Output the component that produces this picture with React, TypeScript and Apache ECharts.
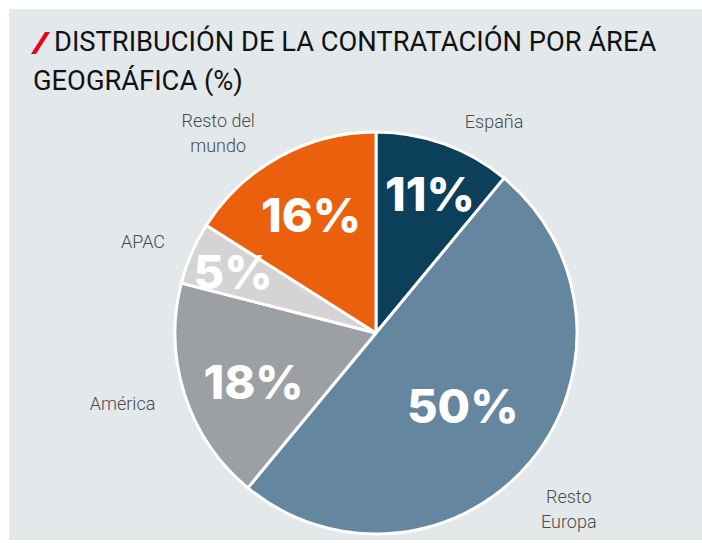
import React, { useEffect, useRef } from "react";
import * as echarts from "echarts";

const regions = ["España", "Resto Europa", "América", "APAC", "Resto del mundo"];
const nameLabels = ["España", "Resto\nEuropa", "América", "APAC", "Resto del\nmundo"];
const shares = [11, 50, 18, 5, 16];
const colors = ["#0b3f5a", "#64869f", "#9c9fa3", "#d5d3d4", "#eb600c"];
const titleLine1 = "DISTRIBUCIÓN DE LA CONTRATACIÓN POR ÁREA";
const titleLine2 = "GEOGRÁFICA (%)";

// label nudges (pixels) relative to ECharts' "inside" anchor
const pctOffsets = [[19, -42], [7, 7], [-24, 17], [-48, -20], [-15, -28]];
const nameOffsets = [[83, -114], [113, 110], [-155, 39], [-138, -50], [-108, -109]];

export default function App() {
  const ref = useRef<HTMLDivElement>(null);
  useEffect(() => {
    if (!ref.current) return;
    const chart = echarts.init(ref.current, null, { renderer: "svg" });
    const center = [376, 333];
    const radius = 201;
    const titleStyle = { fontFamily: "Roboto", fontSize: 27.3, fontWeight: "normal", color: "#111111" };
    chart.setOption({
      animation: false,
      backgroundColor: "#ffffff",
      graphic: [
        { type: "rect", z: -10, shape: { x: 9, y: 9, width: 693, height: 531 }, style: { fill: "#e3e8eb" } },
        { type: "polygon", shape: { points: [[31, 54], [36, 54], [50, 32], [45, 32]] }, style: { fill: "#e30613" } },
      ],
      title: [
        { text: titleLine1, left: 54, top: 28, padding: 0, textStyle: titleStyle },
        { text: titleLine2, left: 33, top: 67, padding: 0, textStyle: titleStyle },
      ],
      series: [
        {
          type: "pie",
          center,
          radius,
          startAngle: 90,
          clockwise: true,
          avoidLabelOverlap: false,
          silent: true,
          itemStyle: { borderColor: "#ffffff", borderWidth: 3 },
          labelLine: { show: false },
          data: regions.map((n, i) => ({
            name: n,
            value: shares[i],
            itemStyle: { color: colors[i] },
            label: { offset: pctOffsets[i] },
          })),
          label: {
            show: true,
            position: "inside",
            formatter: (p: any) => `${p.value}%`,
            fontFamily: "Inter",
            fontWeight: 800,
            fontSize: 47,
            color: "#ffffff",
          },
        },
        {
          type: "pie",
          center,
          radius,
          startAngle: 90,
          clockwise: true,
          avoidLabelOverlap: false,
          silent: true,
          itemStyle: { color: "rgba(0,0,0,0)", borderWidth: 0 },
          labelLine: { show: false },
          data: regions.map((n, i) => ({
            name: n,
            value: shares[i],
            label: { offset: nameOffsets[i], formatter: nameLabels[i] },
          })),
          label: {
            show: true,
            position: "inside",
            fontFamily: "Roboto",
            fontWeight: 300,
            fontSize: 18,
            lineHeight: 25,
            color: "#4a4a4a",
          },
        },
      ],
    });
    return () => chart.dispose();
  }, []);
  return (
    <div
      ref={ref}
      style={{ position: "absolute", left: 0, top: 0, width: 702, height: 543 }}
    />
  );
}
